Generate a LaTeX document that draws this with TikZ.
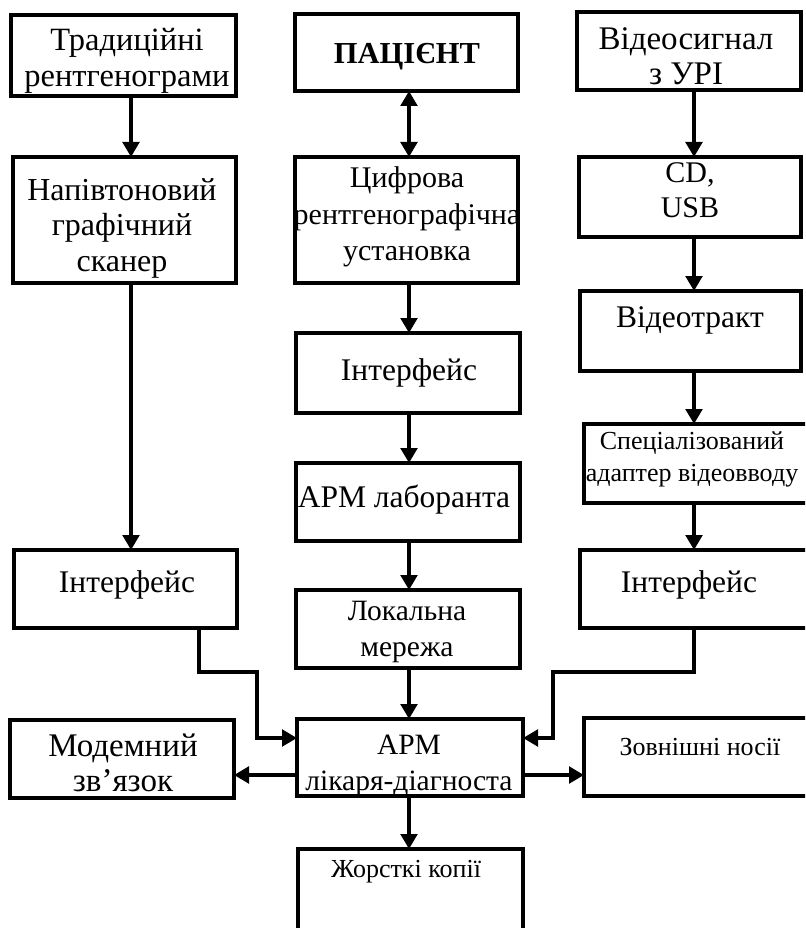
\documentclass[tikz,border=0pt]{standalone}
\usepackage{fontspec}
\setmainfont{Liberation Serif}
\usetikzlibrary{arrows.meta}

% block given by its corner coordinates (x1,y1)-(x2,y2), y measured downwards
\newcommand\blk[5]{%
  \node[blk, minimum width={(#4-#2)*1pt}, minimum height={(#5-#3)*1pt}]
    (#1) at ({(#2+#4)/2},{(#3+#5)/2}) {};}

\tikzset{
  blk/.style={draw, line width=3.8pt, inner sep=0pt, outer sep=0pt},
  lbl/.style={font=\fontsize{#1}{35.5}\selectfont, align=center, inner sep=0pt},
  lbl/.default=31.5,
  lblsm/.style={font=\fontsize{26}{32}\selectfont, align=center, inner sep=0pt},
  tip/.tip={Triangle[length=15pt,width=16.5pt]},
  arr/.style={line width=3.8pt, -tip},
  dbl/.style={line width=3.8pt, tip-tip},
}

\begin{document}
\begin{tikzpicture}[x=1pt, y=-1pt]
  \clip (0,0) rectangle (805,928);

  % left column
  \blk{trad}{11}{15}{236}{96}
  \blk{scan}{13}{157}{236}{283}
  \blk{intl}{14}{550}{237}{628}
  \blk{mod}{10}{720}{234}{798}
  % middle column
  \blk{pat}{295}{14}{518}{91}
  \blk{dig}{295}{157}{518}{283}
  \blk{intm}{296}{333}{520}{413}
  \blk{lab}{296}{463}{520}{541}
  \blk{lan}{296}{590}{520}{668}
  \blk{arm}{297}{719}{523}{796}
  \blk{hard}{298}{849}{523}{940}
  % right column
  \blk{vid}{577}{12}{801}{90}
  \blk{cd}{579}{157}{801}{237}
  \blk{vtr}{580}{291}{801}{371}
  \blk{spec}{584}{424}{812}{503}
  \blk{intr}{580}{550}{812}{628}
  \blk{ext}{584}{718}{812}{796}

  % labels
  \node[lbl=32.5] (t-trad) at (127,61) {Традиційні\\рентгенограми};
  \node[lbl=32] (t-scan) at (122,228) {Напівтоновий\\графічний\\сканер};
  \node[lbl] (t-intl) at (127,585) {Інтерфейс};
  \node[lbl=33] (t-mod) at (123,763) {Модемний\\зв’язок};

  \node[lbl, font=\fontsize{30.5}{35}\selectfont\bfseries] (t-pat) at (407,57) {ПАЦІЄНТ};
  \node[lbl, font=\fontsize{30}{36.5}\selectfont] (t-dig) at (407,217) {Цифрова\\рентгенографічна\\установка};
  \node[lbl] (t-intm) at (409,373) {Інтерфейс};
  \node[lbl] (t-lab) at (404,500) {АРМ лаборанта};
  \node[lbl=29.5] (t-lan) at (407,632) {Локальна\\мережа};
  \node[lbl=29.5] (t-arm) at (409,766) {АРМ\\лікаря-діагноста};
  \node[lblsm] (t-hard) at (406,872) {Жорсткі копії};

  \node[lbl=33] (t-vid) at (686,56) {Відеосигнал\\з УРІ};
  \node[lbl=30] (t-cd) at (690,190) {CD,\\USB};
  \node[lbl] (t-vtr) at (690,320) {Відеотракт};
  \node[lblsm] (t-spec) at (692,459) {Спеціалізований\\адаптер відеовводу};
  \node[lbl] (t-intr) at (689,585) {Інтерфейс};
  \node[lblsm] (t-ext) at (700,747) {Зовнішні носії};

  % connector columns and levels
  \coordinate (xl) at (131,0);
  \coordinate (xm) at (409,0);
  \coordinate (xr) at (694,0);
  \coordinate (xl2) at (199,0);
  \coordinate (yin) at (0,738);
  \coordinate (yout) at (0,775);

  % connectors
  \draw[arr] (trad.south -| xl) -- (scan.north -| xl);
  \draw[arr] (scan.south -| xl) -- (intl.north -| xl);

  \draw[dbl] (pat.south -| xm) -- (dig.north -| xm);
  \draw[arr] (dig.south -| xm) -- (intm.north -| xm);
  \draw[arr] (intm.south -| xm) -- (lab.north -| xm);
  \draw[arr] (lab.south -| xm) -- (lan.north -| xm);
  \draw[arr] (lan.south -| xm) -- (arm.north -| xm);
  \draw[arr] (arm.south -| xm) -- (hard.north -| xm);

  \draw[arr] (vid.south -| xr) -- (cd.north -| xr);
  \draw[arr] (cd.south -| xr) -- (vtr.north -| xr);
  \draw[arr] (vtr.south -| xr) -- (spec.north -| xr);
  \draw[arr] (spec.south -| xr) -- (intr.north -| xr);

  \draw[arr] (intl.south -| xl2) |- (257,672) |- (arm.west |- yin);
  \draw[arr] (intr.south -| xr) |- (553,672) |- (arm.east |- yin);

  \draw[arr] (arm.west |- yout) -- (mod.east |- yout);
  \draw[arr] (arm.east |- yout) -- (ext.west |- yout);
\end{tikzpicture}
\end{document}
